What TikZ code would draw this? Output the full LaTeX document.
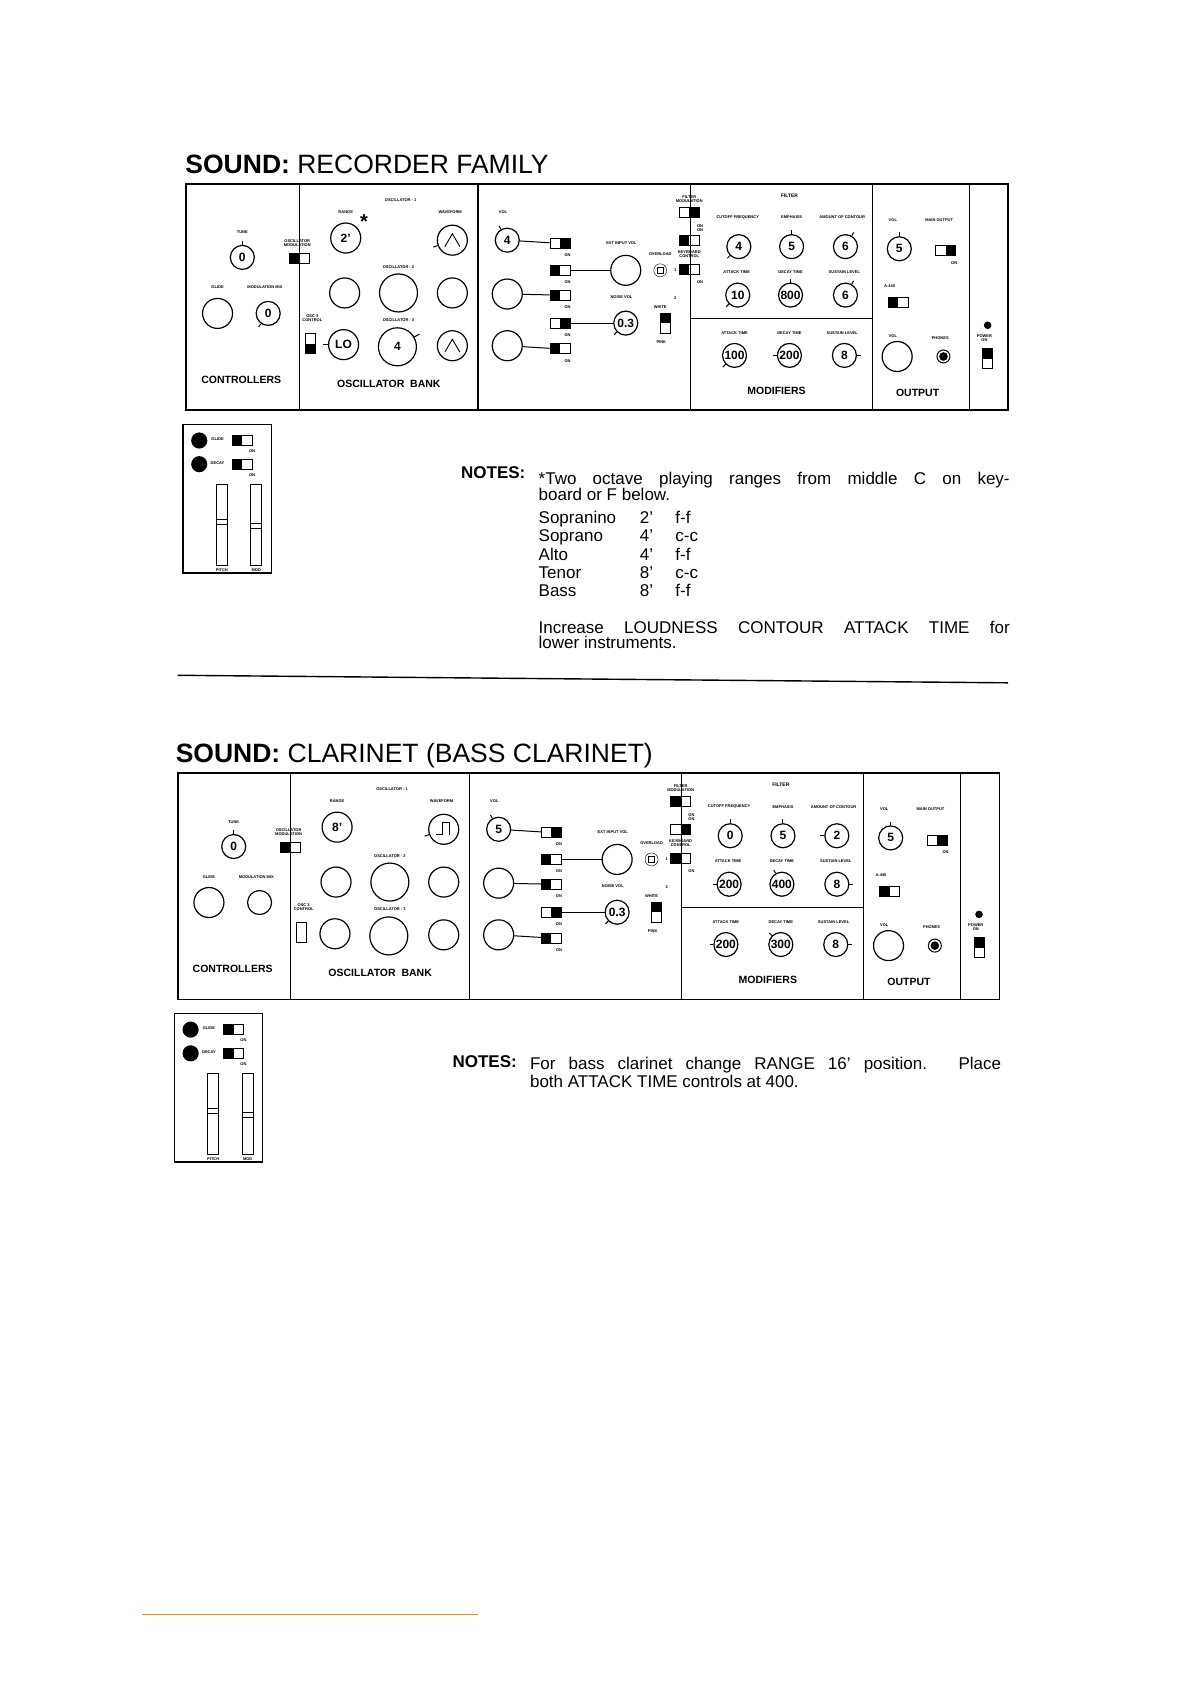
\documentclass[tikz,border=0pt]{standalone}
\usepackage{fontspec}
\setmainfont{Liberation Sans}
\usetikzlibrary{calc}
\tikzset{
 knob/.style={circle,draw,line width=1.2pt,minimum size=24,inner sep=0pt,font=\fontsize{12}{12}\selectfont\bfseries},
 bigknob/.style={knob,minimum size=38},
 midknob/.style={knob,minimum size=30},
 swbox/.style={draw,line width=1pt,minimum width=20,minimum height=10,inner sep=0pt},
 vswbox/.style={draw,line width=1pt,minimum width=10,minimum height=20,inner sep=0pt},
 lab/.style={font=\fontsize{4}{4}\selectfont\bfseries,inner sep=0pt},
 sect/.style={font=\fontsize{10.5}{10.5}\selectfont\bfseries,inner sep=0pt},
 note/.style={font=\fontsize{17}{17}\selectfont,inner sep=0pt,anchor=base west},
 ttl/.style={anchor=base west,inner sep=0pt,font=\fontsize{26.5}{26.5}\selectfont},
 wire/.style={line width=1pt}
}
\newcommand\tk[2]{\draw[line width=1pt] (#1.#2) -- ($(#1.center)!1.3!(#1.#2)$);}
\newcommand\swH[4]{\node[swbox] (#1) at (#2,#3) {};
 \if#4L\fill (#1.north west) rectangle (#1.south);\else\fill (#1.north) rectangle (#1.south east);\fi}
\newcommand\swV[4]{\node[vswbox] (#1) at (#2,#3) {};
 \if#4T\fill (#1.north west) rectangle (#1.east);\else\if#4B\fill (#1.west) rectangle (#1.south east);\fi\fi}
\newcommand\tri[1]{\draw[line width=0.9pt] ($(#1.center)+(-7,6)$) -- ($(#1.center)+(0,-6)$) -- ($(#1.center)+(7,6)$);}
\newcommand\sqw[1]{\draw[line width=0.9pt] ($(#1.center)+(-7,5)$) -- ++(6,0) -- ++(0,-11) -- ++(6,0) -- ++(0,11);}
% panel
\newcommand\panel[1]{%
 \draw[line width=1.8pt] (173,171) rectangle (936,381);
 \foreach \xx in {278,444,641,810,900} \draw[line width=1.4pt] (\xx,171) -- (\xx,381);
 \draw[line width=1pt] (641,296) -- (810,296);
 % controllers
 \node[lab] at (225,216) {TUNE};
 \node[knob] (#1tune) at (225,239) {\vTune}; \tk{#1tune}{90}
 \node[lab] at (202,267) {GLIDE};
 \node[lab] at (246,267) {MODULATION MIX};
 \node[midknob] (#1glide) at (202,291) {};
 \node[knob] (#1mm) at (249,291) {\vMM}; \ifx\vMM\empty\else\tk{#1mm}{235}\fi
 \node[lab,align=center] at (276,226) {OSCILLATOR\\MODULATION};
 \swH{#1oms}{278}{240}{L}
 \node[sect] at (224,353) {CONTROLLERS};
 % oscillator bank
 \node[lab] at (372,186) {OSCILLATOR - 1};
 \node[lab] at (321,197) {RANGE}; \node[lab] at (418,197) {WAVEFORM};
 \node[midknob] (#1r1) at (321,221) {\vRa};
 \node[midknob] (#1w1) at (420,223) {}; \tk{#1w1}{200}\wfA{#1w1}
 \node[lab] at (370,248) {OSCILLATOR - 2};
 \node[midknob] (#1r2) at (320,272) {};
 \node[bigknob] (#1f2) at (370,272) {};
 \node[midknob] (#1w2) at (420,272) {};
 \node[lab] at (370,297) {OSCILLATOR - 3};
 \node[lab,align=center] at (290,295) {OSC 3\\CONTROL};
 \swV{#1o3c}{288}{319}{\vOC}
 \node[midknob] (#1r3) at (319,320) {\vRc}; \ifx\vRc\empty\else\tk{#1r3}{180}\fi
 \node[bigknob] (#1f3) at (369,322) {\vFc}; \ifx\vFc\empty\else\tk{#1f3}{30}\fi
 \node[midknob] (#1w3) at (420,321) {}; \wfC{#1w3}
 \node[sect] at (361,356) {OSCILLATOR\ \ BANK};
 % mixer
 \node[lab] at (467,197) {VOL};
 \node[knob] (#1m1) at (471,223) {\vMx}; \tk{#1m1}{120}
 \node[midknob] (#1m2) at (471,273) {};
 \node[midknob] (#1m3) at (471,321) {};
 \swH{#1s1}{520}{226}{R} \node[lab] at (527,237) {ON};
 \swH{#1s2}{520}{251}{L} \node[lab] at (527,262) {ON};
 \swH{#1s3}{520}{274}{L} \node[lab] at (527,285) {ON};
 \swH{#1s4}{520}{300}{R} \node[lab] at (527,311) {ON};
 \swH{#1s5}{520}{324}{L} \node[lab] at (527,335) {ON};
 \node[lab] at (577,226) {EXT INPUT VOL};
 \node[midknob] (#1ext) at (581,251) {};
 \node[lab] at (577,276) {NOISE VOL};
 \node[knob] (#1nz) at (581,300) {0.3}; \tk{#1nz}{225}
 \draw[wire] (#1m1) -- (#1s1); \draw[wire] (#1m2) -- (#1s3); \draw[wire] (#1m3) -- (#1s5);
 \draw[wire] (#1s2) -- (#1ext); \draw[wire] (#1s4) -- (#1nz);
 \node[lab] at (613,236) {OVERLOAD};
 \node[draw,circle,minimum size=13,inner sep=0pt] (#1ov) at (613,251) {}; \node[draw,minimum size=6,inner sep=0pt] at (#1ov) {};
 \node[lab,align=center] at (613,285) {WHITE};
 \swV{#1wp}{618}{300}{T} \node[lab] at (614,318) {PINK};
 \node[lab] at (627,251) {1}; \node[lab] at (627,277) {2};
 \node[lab,align=center] at (640,185) {FILTER\\MODULATION};
 \swH{#1fm}{640}{197}{\vFM} \node[lab,align=center] at (650,212) {ON\\ON};
 \swH{#1k1}{640}{223}{\vKa}
 \node[lab,align=center] at (640,236) {KEYBOARD\\CONTROL};
 \swH{#1k2}{640}{250}{L} \node[lab] at (650,262) {ON};
 % filter
 \node[lab,font=\fontsize{5}{5}\selectfont\bfseries] at (733,182) {FILTER};
 \node[lab] at (685,202) {CUTOFF FREQUENCY}; \node[lab] at (735,202) {EMPHASIS}; \node[lab] at (782,202) {AMOUNT OF CONTOUR};
 \node[knob] (#1fa) at (686,229) {\vFa}; \tk{#1fa}{\aFa}
 \node[knob] (#1fb) at (735,229) {\vFb}; \tk{#1fb}{90}
 \node[knob] (#1fc) at (785,229) {\vFcc}; \tk{#1fc}{\aFc}
 \node[lab] at (684,253) {ATTACK TIME}; \node[lab] at (734,253) {DECAY TIME}; \node[lab] at (784,253) {SUSTAIN LEVEL};
 \node[knob] (#1ea) at (685,274) {\vEa}; \tk{#1ea}{\aEa}
 \node[knob] (#1eb) at (734,274) {\vEb}; \tk{#1eb}{\aEb}
 \node[knob] (#1ec) at (785,274) {\vEc}; \tk{#1ec}{\aEc}
 \node[lab] at (682,309) {ATTACK TIME}; \node[lab] at (733,309) {DECAY TIME}; \node[lab] at (782,309) {SUSTAIN LEVEL};
 \node[knob] (#1ma) at (682,330) {\vMa}; \tk{#1ma}{\aMa}
 \node[knob] (#1mb) at (733,330) {\vMb}; \tk{#1mb}{\aMb}
 \node[knob] (#1mc) at (784,330) {8}; \tk{#1mc}{0}
 \node[sect] at (721,363) {MODIFIERS};
 % output
 \node[lab] at (829,204) {VOL}; \node[lab] at (872,204) {MAIN OUTPUT};
 \node[knob] (#1ov2) at (835,231) {5}; \tk{#1ov2}{90}
 \swH{#1mo}{878}{233}{R} \node[lab] at (886,244) {ON};
 \node[lab] at (826,266) {A-440};
 \swH{#1a4}{834}{281}{L}
 \node[lab] at (829,312) {VOL}; \node[lab] at (873,314) {PHONES};
 \node[midknob] (#1ov3) at (833,331) {};
 \node[draw,circle,minimum size=13,inner sep=0pt,line width=1pt] (#1ph) at (876,331) {}; \fill (#1ph) circle (4);
 \node[sect] at (852,365) {OUTPUT};
 \fill (917,302) circle (3.5);
 \node[lab,align=center] at (914,314) {POWER\\ON};
 \swV{#1pw}{917}{333}{T}
}
\newcommand\sidepanel[1]{%
 \draw[line width=1.4pt] (170,394) rectangle (252,532);
 \fill (185,409) circle (7.5); \node[lab] at (202,408) {GLIDE};
 \swH{#1g}{225}{409}{L} \node[lab] at (234,419) {ON};
 \fill (185,431) circle (7.5); \node[lab] at (202,430) {DECAY};
 \swH{#1d}{225}{431}{L} \node[lab] at (234,441) {ON};
 \draw[line width=1pt] (201,450) rectangle (211,525);
 \draw[line width=1pt] (201,482) -- (211,482); \draw[line width=1pt] (201,487) -- (211,487);
 \draw[line width=1pt] (233,450) rectangle (243,525);
 \draw[line width=1pt] (233,486) -- (243,486); \draw[line width=1pt] (233,491) -- (243,491);
 \node[lab] at (206,529) {PITCH}; \node[lab] at (238,529) {MOD};
}
\begin{document}
\begin{tikzpicture}[x=1.077pt,y=-1.077pt]
\useasboundingbox (0,0) rectangle (1105,1563.6);
% ---------- recorder
\node[ttl] (t1) at (172,161) {\textbf{SOUND:} RECORDER FAMILY};
\def\vTune{0}\def\vMM{0}\def\vRa{2'}\def\vRc{LO}\def\vFc{4}\def\vOC{B}
\def\wfA#1{\tri{#1}}\def\wfC#1{\tri{#1}}
\def\vMx{4}\def\vFM{R}\def\vKa{L}
\def\vFa{4}\def\aFa{225}\def\vFb{5}\def\vFcc{6}\def\aFc{60}
\def\vEa{10}\def\aEa{225}\def\vEb{800}\def\aEb{90}\def\vEc{6}\def\aEc{60}
\def\vMa{100}\def\aMa{225}\def\vMb{200}\def\aMb{180}
\panel{a}
\node[font=\fontsize{20}{20}\selectfont\bfseries] at (338,206) {*};
\sidepanel{a}
\node[note] at (428,444) {\bfseries NOTES:};
\node[note] at (500,450) {\makebox[471pt][s]{*Two octave playing ranges from middle C on key-}};
\node[note] at (500,465) {board or F below.};
\foreach \a/\b/\c [count=\i] in {Sopranino/2'/f-f,Soprano/4'/c-c,Alto/4'/f-f,Tenor/8'/c-c,Bass/8'/f-f}
 { \node[note] at (500,469+17*\i) {\a}; \node[note] at (594,469+17*\i) {\b}; \node[note] at (627,469+17*\i) {\c}; }
\node[note] at (500,588) {\makebox[471pt][s]{Increase LOUDNESS CONTOUR ATTACK TIME for}};
\node[note] at (500,602) {lower instruments.};
\draw[line width=1.4pt] (165,627) -- (936,634);
% ---------- clarinet
\node[ttl] (t2) at (163,708) {\textbf{SOUND:} CLARINET (BASS CLARINET)};
\begin{scope}[shift={(-8,547)}]
\def\vTune{0}\def\vMM{}\def\vRa{8'}\def\vRc{}\def\vFc{}\def\vOC{N}
\def\wfA#1{\sqw{#1}}\def\wfC#1{}
\def\vMx{5}\def\vFM{L}\def\vKa{R}
\def\vFa{0}\def\aFa{90}\def\vFb{5}\def\vFcc{2}\def\aFc{180}
\def\vEa{200}\def\aEa{180}\def\vEb{400}\def\aEb{120}\def\vEc{8}\def\aEc{0}
\def\vMa{200}\def\aMa{180}\def\vMb{300}\def\aMb{135}
\panel{b}
\sidepanel{b}
\end{scope}
\node[note] at (420,991) {\bfseries NOTES:};
\node[note] at (492,993) {\makebox[471pt][s]{For bass clarinet change RANGE 16' position. Place}};
\node[note] at (492,1010) {both ATTACK TIME controls at 400.};
\draw[orange!90!yellow,line width=1.2pt] (132,1499) -- (444,1499);
\end{tikzpicture}
\end{document}
